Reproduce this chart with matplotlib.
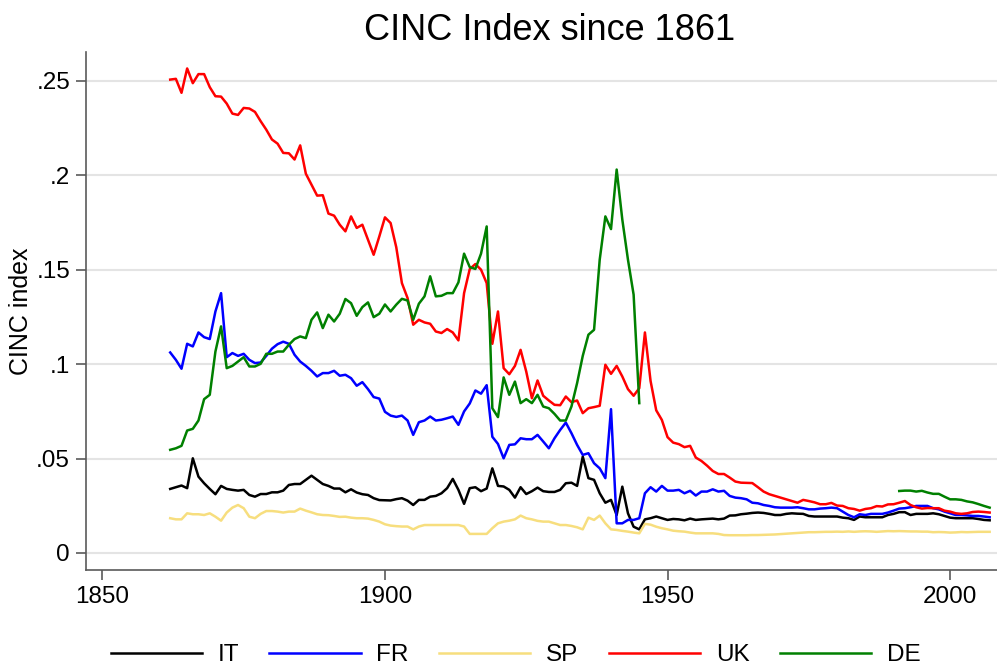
import numpy as np
import matplotlib
matplotlib.use("Agg")
import matplotlib.pyplot as plt
from matplotlib.ticker import FixedLocator, FixedFormatter

plt.rcParams['font.family'] = ['Liberation Sans', 'DejaVu Sans']

years = list(range(1862, 2008))
nan = np.nan

IT = [.0339, .0348, .0357, .0343, .0501, .0404, .0369, .0339,
      .0311, .0355, .0339, .0334, .0330, .0334, .0307, .0298, .0312, .0312,
      .0321, .0321, .0330, .0360, .0365, .0365, .0387, .0409, .0387, .0365,
      .0355, .0341, .0341, .0321, .0337, .0320, .0311, .0307, .0290, .0280,
      .0279, .0278, .0285, .0290, .0277, .0254, .0281, .0281, .0298, .0302,
      .0316, .0343, .0392, .0334, .0260, .0343, .0348, .0327, .0341, .0448,
      .0355, .0352, .0334, .0293, .0348, .0312, .0327, .0346, .0327, .0323,
      .0323, .0334, .0369, .0372, .0355, .0510, .0396, .0387, .0316, .0266,
      .0281, .0201, .0351, .0210, .0139, .0125, .0178, .0184, .0193, .0184,
      .0175, .0180, .0178, .0173, .0182, .0175, .0178, .0180, .0182, .0178,
      .0182, .0198, .0199, .0205, .0208, .0212, .0214, .0212, .0207, .0201,
      .0201, .0207, .0210, .0208, .0207, .0196, .0193, .0193, .0193, .0193,
      .0193, .0187, .0184, .0175, .0193, .0189, .0189, .0189, .0189, .0201,
      .0207, .0216, .0216, .0201, .0207, .0207, .0207, .0210, .0205, .0196,
      .0187, .0184, .0184, .0184, .0184, .0180, .0175, .0173]

FR = [.1061, .1022, .0975, .1107, .1093, .1167, .1142, .1132,
      .1278, .1375, .1036, .1058, .1043, .1054, .1022, .1005, .1008, .1043,
      .1081, .1105, .1118, .1107, .1049, .1013, .0990, .0964, .0934, .0952,
      .0952, .0964, .0938, .0943, .0925, .0885, .0904, .0867, .0825, .0817,
      .0747, .0727, .0720, .0727, .0701, .0625, .0692, .0701, .0722, .0701,
      .0705, .0713, .0722, .0678, .0749, .0791, .0860, .0843, .0888, .0615,
      .0577, .0501, .0572, .0575, .0607, .0602, .0602, .0625, .0590, .0554,
      .0607, .0651, .0690, .0634, .0572, .0519, .0528, .0475, .0448, .0396,
      .0761, .0157, .0157, .0175, .0175, .0184, .0316, .0348, .0325, .0355,
      .0330, .0330, .0334, .0316, .0329, .0304, .0325, .0325, .0337, .0325,
      .0329, .0302, .0293, .0290, .0284, .0266, .0263, .0254, .0249, .0242,
      .0240, .0240, .0240, .0242, .0237, .0231, .0231, .0235, .0237, .0240,
      .0237, .0219, .0201, .0189, .0205, .0201, .0207, .0207, .0207, .0214,
      .0224, .0235, .0237, .0242, .0249, .0249, .0249, .0237, .0231, .0219,
      .0210, .0201, .0201, .0199, .0196, .0196, .0193, .0189]

SP = [.0184, .0178, .0178, .0210, .0205, .0205, .0201, .0210,
      .0192, .0171, .0214, .0240, .0254, .0237, .0192, .0184, .0207, .0222,
      .0222, .0219, .0214, .0219, .0219, .0235, .0224, .0215, .0205, .0201,
      .0200, .0196, .0191, .0192, .0187, .0184, .0184, .0182, .0175, .0166,
      .0152, .0145, .0142, .0140, .0140, .0125, .0140, .0148, .0148, .0148,
      .0148, .0148, .0148, .0148, .0140, .0101, .0101, .0101, .0101, .0131,
      .0157, .0166, .0171, .0178, .0198, .0184, .0178, .0170, .0166, .0166,
      .0157, .0148, .0148, .0143, .0136, .0125, .0187, .0175, .0198, .0157,
      .0125, .0122, .0117, .0113, .0108, .0104, .0154, .0150, .0139, .0131,
      .0125, .0118, .0115, .0113, .0108, .0104, .0104, .0104, .0104, .0101,
      .0095, .0094, .0094, .0094, .0094, .0095, .0095, .0096, .0097, .0098,
      .0100, .0102, .0104, .0106, .0108, .0110, .0110, .0111, .0112, .0112,
      .0113, .0112, .0114, .0112, .0114, .0115, .0114, .0112, .0114, .0116,
      .0115, .0116, .0115, .0114, .0114, .0113, .0113, .0110, .0111, .0110,
      .0108, .0109, .0111, .0110, .0111, .0112, .0112, .0112]

UK = [.2505, .2509, .2435, .2564, .2486, .2534, .2534, .2465,
      .2417, .2415, .2378, .2325, .2318, .2355, .2352, .2334, .2285, .2240,
      .2188, .2166, .2117, .2115, .2082, .2157, .2007, .1949, .1891, .1893,
      .1796, .1785, .1737, .1702, .1781, .1720, .1737, .1658, .1578, .1675,
      .1776, .1746, .1618, .1428, .1349, .1208, .1234, .1220, .1213, .1172,
      .1164, .1185, .1167, .1125, .1375, .1502, .1529, .1499, .1428, .1107,
      .1278, .0978, .0946, .0990, .1075, .0960, .0819, .0913, .0832, .0807,
      .0784, .0782, .0828, .0798, .0807, .0740, .0766, .0772, .0779, .0996,
      .0948, .0990, .0934, .0867, .0832, .0872, .1167, .0910, .0755, .0704,
      .0613, .0584, .0576, .0560, .0567, .0505, .0487, .0462, .0434, .0418,
      .0418, .0399, .0378, .0372, .0371, .0370, .0348, .0325, .0311, .0302,
      .0293, .0284, .0275, .0266, .0281, .0275, .0268, .0258, .0258, .0265,
      .0251, .0249, .0237, .0233, .0224, .0233, .0237, .0248, .0246, .0257,
      .0258, .0266, .0275, .0254, .0242, .0235, .0238, .0237, .0237, .0224,
      .0219, .0210, .0207, .0210, .0217, .0219, .0217, .0214]

DE = [.0546, .0554, .0567, .0648, .0657, .0701, .0814, .0837,
      .1066, .1199, .0978, .0990, .1013, .1036, .0987, .0987, .1001, .1054,
      .1054, .1066, .1066, .1102, .1132, .1146, .1137, .1234, .1273, .1190,
      .1261, .1225, .1266, .1344, .1322, .1255, .1301, .1326, .1248, .1266,
      .1315, .1278, .1314, .1345, .1336, .1234, .1319, .1358, .1464, .1358,
      .1361, .1375, .1375, .1432, .1584, .1513, .1503, .1584, .1728, .0766,
      .0719, .0929, .0837, .0907, .0793, .0814, .0793, .0837, .0775, .0766,
      .0736, .0701, .0701, .0775, .0899, .1043, .1155, .1181, .1552, .1781,
      .1714, .2029, .1764, .1552, .1367, .0793, nan, nan, nan, nan,
      nan, nan, nan, nan, nan, nan, nan, nan, nan, nan,
      nan, nan, nan, nan, nan, nan, nan, nan, nan, nan,
      nan, nan, nan, nan, nan, nan, nan, nan, nan, nan,
      nan, nan, nan, nan, nan, nan, nan, nan, nan, nan,
      nan, .0328, .0330, .0330, .0325, .0329, .0320, .0313, .0313, .0298,
      .0284, .0284, .0281, .0273, .0268, .0259, .0249, .0240]

series_names = ["IT", "FR", "SP", "UK", "DE"]
series_vals = [IT, FR, SP, UK, DE]
colors = ["#000000", "#0000FF", "#F7DE7E", "#FF0000", "#008000"]

y_ticks = [0, .05, .1, .15, .2, .25]
y_tick_labels = ["0", ".05", ".1", ".15", ".2", ".25"]
x_ticks = [1850, 1900, 1950, 2000]

fig = plt.figure(figsize=(9.97, 6.70), dpi=100)
ax = fig.add_axes([86/997, 100/670, 1 - 86/997, (570-52)/670])

for name, vals, c in zip(series_names, series_vals, colors):
    ax.plot(years, vals, color=c, lw=1.8, label=name, zorder=3)

ax.set_xlim(1847.1, 2008.3)
ax.set_ylim(-0.009, 0.2651)
ax.yaxis.set_major_locator(FixedLocator(y_ticks))
ax.yaxis.set_major_formatter(FixedFormatter(y_tick_labels))
ax.set_xticks(x_ticks)
ax.set_xticklabels([str(x) for x in x_ticks])

ax.grid(axis='y', color='#e4e4e4', lw=1.5, zorder=0)
ax.set_axisbelow(True)
for s in ['top', 'right']:
    ax.spines[s].set_visible(False)
for s in ['left', 'bottom']:
    ax.spines[s].set_color('#5a5a5a')
    ax.spines[s].set_linewidth(1.2)
ax.tick_params(axis='both', colors='#5a5a5a', length=7, width=1.2,
               labelsize=17.5, labelcolor='black', pad=4.5)

ax.set_ylabel("CINC index", fontsize=18)
ax.yaxis.set_label_coords((33 - 86) / 911, 0.5)

fig.text(0.551, 1 - 40/670, "CINC Index since 1861", fontsize=26,
         ha='center', va='baseline')

fig.legend(loc='center', bbox_to_anchor=(0.517, 1 - 655/670), ncol=5,
           frameon=False, fontsize=17.5, handlelength=3.75, handletextpad=0.65,
           columnspacing=1.25, borderaxespad=0)

fig.savefig("out.png", dpi=100)
